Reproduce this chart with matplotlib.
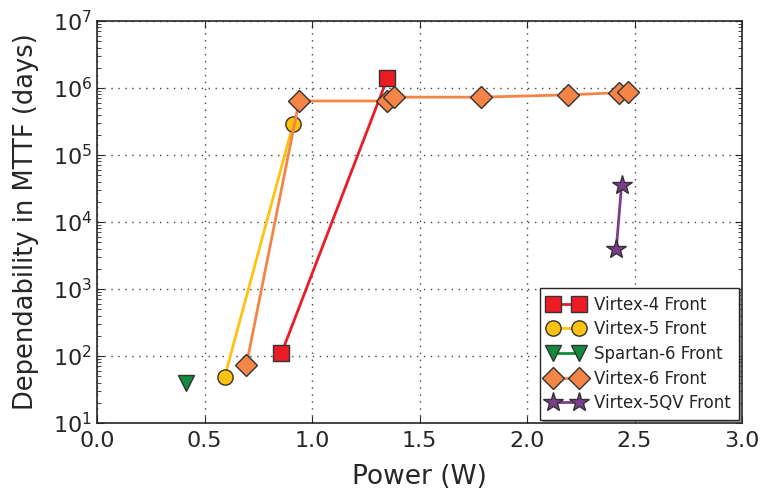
import matplotlib
matplotlib.use("Agg")
import matplotlib.pyplot as plt
import numpy as np

# Data
v4_x = [0.858, 1.351]
v4_y = [110, 1.41e6]
v5_x = [0.594, 0.912]
v5_y = [49, 2.9e5]
s6_x = [0.416]
s6_y = [40]
v6_x = [0.695, 0.940, 1.347, 1.381, 1.784, 2.19, 2.43, 2.47]
v6_y = [74, 6.4e5, 6.4e5, 7.3e5, 7.3e5, 7.9e5, 8.5e5, 8.6e5]
v5qv_x = [2.415, 2.44]
v5qv_y = [3.9e3, 3.6e4]

labels = ["Virtex-4 Front", "Virtex-5 Front", "Spartan-6 Front", "Virtex-6 Front", "Virtex-5QV Front"]
xticks = [0.0, 0.5, 1.0, 1.5, 2.0, 2.5, 3.0]

txt = "#262626"
plt.rcParams['font.family'] = ['DejaVu Sans']
plt.rcParams['text.color'] = txt
plt.rcParams['axes.labelcolor'] = txt
plt.rcParams['xtick.color'] = txt
plt.rcParams['ytick.color'] = txt

fig = plt.figure(figsize=(7.61, 4.92), dpi=100)
ax = fig.add_axes([97/761, 1 - 423/492, (742-97)/761, (423-21)/492])

ms = 11
ax.plot(v4_x, v4_y, '-', color='#ED1C24', marker='s', ms=ms, mec='#333333', mew=1, lw=2, label=labels[0], zorder=3)
ax.plot(v5_x, v5_y, '-', color='#FFC20E', marker='o', ms=ms, mec='#333333', mew=1, lw=2, label=labels[1], zorder=3)
ax.plot(s6_x, s6_y, '-', color='#138A3E', marker='v', ms=ms, mec='#333333', mew=1, lw=2, label=labels[2], zorder=3)
ax.plot(v6_x, v6_y, '-', color='#F58447', marker='D', ms=ms, mec='#333333', mew=1, lw=2, label=labels[3], zorder=3)
ax.plot(v5qv_x, v5qv_y, '-', color='#7D3C8C', marker='*', ms=ms+4, mec='#333333', mew=1, lw=2, label=labels[4], zorder=3)

ax.set_yscale('log')
ax.set_xlim(0, 3)
ax.set_ylim(10, 1e7)
ax.set_xticks(xticks)
ax.set_xticklabels([f"{t:.1f}" for t in xticks])
ax.tick_params(axis='both', which='both', direction='in', top=True, right=True, labelsize=16)
ax.tick_params(axis='x', pad=6)
ax.tick_params(which='major', length=5)
ax.tick_params(which='minor', length=3)
ax.grid(True, which='major', linestyle=(0, (1, 4)), color='#444444', lw=1)
ax.set_xlabel("Power (W)", fontsize=19, labelpad=9)
ax.set_ylabel("Dependability in MTTF (days)", fontsize=18.5, labelpad=10)
for s in ax.spines.values():
    s.set_color('#262626')
    s.set_linewidth(1.2)

leg = ax.legend(loc='lower right', numpoints=2, fontsize=12, fancybox=False, shadow=True,
                handlelength=2.2, borderaxespad=0.2, labelspacing=0.4, handletextpad=0.6,
                borderpad=0.45)
leg.get_frame().set_edgecolor('#262626')

fig.savefig("out.png", dpi=100)
